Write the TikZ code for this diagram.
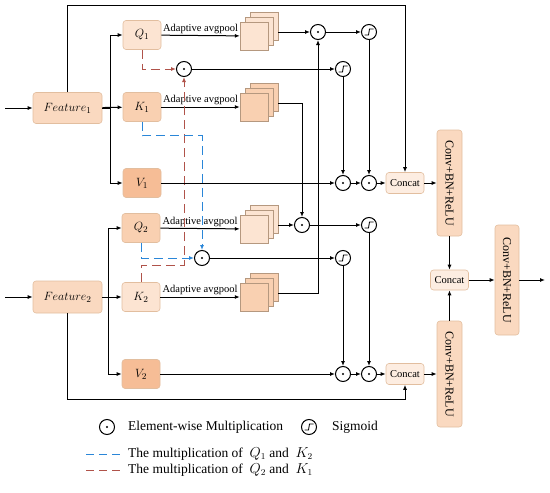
\documentclass[tikz,border=0pt]{standalone}
\usepackage{fontspec}
\setmainfont{Liberation Serif}
\usetikzlibrary{arrows.meta, positioning, calc}
\definecolor{chiaro}{HTML}{FCE4D2}
\definecolor{medio}{HTML}{F9D0B1}
\definecolor{scuro}{HTML}{F6BD96}
\definecolor{fondo}{HTML}{FAD9C0}
\definecolor{tenue}{HTML}{FDEDE1}
\definecolor{orlo}{HTML}{E2BE9F}
\definecolor{blu}{HTML}{2A86D8}
\definecolor{mattone}{HTML}{B0534A}

\begin{document}
\begin{tikzpicture}[
  x=1pt, y=-1pt,
  font=\fontsize{10.5}{12}\selectfont,
  blocco/.style={draw=orlo, line width=0.6pt, rounded corners=3pt, inner sep=0pt},
  foglio/.style={draw=orlo!80!black, line width=0.4pt, minimum size=28pt, inner sep=0pt},
  verticale/.style={blocco, fill=fondo, rotate=-90, minimum width=106pt, minimum height=25pt,
                    font=\fontsize{12}{14}\selectfont},
  molt/.style={circle, draw, line width=1pt, minimum size=15pt, inner sep=0pt,
               path picture={\fill (path picture bounding box.center) circle (1.2pt);}},
  sigm/.style={circle, draw, line width=1pt, minimum size=15pt, inner sep=0pt,
               path picture={\draw[line width=0.9pt]
                 ([shift={(-4.5pt,-3pt)}]path picture bounding box.center) --
                 ([shift={(-0.5pt,-3pt)}]path picture bounding box.center) --
                 ([shift={(0.5pt,3pt)}]path picture bounding box.center) --
                 ([shift={(4.5pt,3pt)}]path picture bounding box.center);}},
  freccia/.style={draw=black, line width=1pt, -{Latex[length=5pt,width=4pt]}},
  tratto/.style={line width=1pt, dash pattern=on 9pt off 5pt}
]
\useasboundingbox (0,0) rectangle (550,493);

% ---- ingressi ---------------------------------------------------------
\node[blocco, fill=fondo, minimum width=69pt, minimum height=31pt, font=\fontsize{12.5}{14}\selectfont]
  (F1) at (67.5,108) {$Feature_1$};
\node[blocco, fill=fondo, minimum width=69pt, minimum height=32pt, font=\fontsize{12.5}{14}\selectfont]
  (F2) at (67.5,297) {$Feature_2$};
\coordinate (in1) at (5,108);
\coordinate (in2) at (5,297);
\draw[freccia] (in1) -- (F1);
\draw[freccia] (in2) -- (F2);

%==============================================================
% Q, K, V
%==============================================================
\foreach \nome/\xx/\yy/\col/\testo in {%
  Q1/142/35/chiaro/{Q_1}, K1/142/107/medio/{K_1}, V1/142/183/scuro/{V_1},
  Q2/141/228/medio/{Q_2}, K2/141/297/chiaro/{K_2}, V2/141/374/scuro/{V_2}} {
  \node[blocco, fill=\col, minimum width=38pt, minimum height=29pt, font=\fontsize{12.5}{14}\selectfont]
    (\nome) at (\xx,\yy) {$\testo$};
}

\draw[freccia] (F1) -- (K1);
\draw[freccia] (F1.east) -- ++(8,0) |- (Q1);
\draw[freccia] (F1.east) -- ++(8,0) |- (V1);
\draw[freccia] (F2) -- (K2);
\draw[freccia] (F2.east) -- ++(6,0) |- (Q2);
\draw[freccia] (F2.east) -- ++(6,0) |- (V2);

% ---- pile dopo l'adaptive avgpool --------------------------------------
\foreach \nome/\yy/\col in {pq1/36/chiaro, pk1/107/medio, pq2/229/chiaro, pk2/297/medio} {
  \node[foglio, fill=\col] at (264,{\yy-10}) {};
  \node[foglio, fill=\col] at (259,{\yy-5}) {};
  \node[foglio, fill=\col] (\nome) at (254,\yy) {};
  \coordinate (\nome-out) at (278,{\yy-4});
}
\foreach \da/\a in {Q1/pq1, K1/pk1, Q2/pq2, K2/pk2} {
  \draw[freccia] (\da) -- node[above, inner sep=1.5pt] {Adaptive avgpool} (\a);
}

%==============================================================
% moltiplicazioni e sigmoidi
%==============================================================
\node[molt] (c1) at (184,69) {};
\node[molt] (c2) at (202,258) {};
\node[molt] (cA) at (318,32) {};
\node[sigm] (sA) at (369,32) {};
\node[sigm] (sB) at (343,69) {};
\node[molt] (cC) at (302,225) {};
\node[sigm] (sD) at (369,225) {};
\node[sigm] (sE) at (343,258) {};
\node[molt] (m1) at (343,183) {};
\node[molt] (m2) at (369,183) {};
\node[molt] (m3) at (343,374) {};
\node[molt] (m4) at (369,374) {};

\draw[freccia] (pq1-out) -- (cA);
\draw[freccia] (pk2-out) -| (cA);
\draw[freccia] (pq2-out) -- (cC);
\draw[freccia] (pk1-out) -| (cC);
\draw[freccia] (cA) -- (sA);
\draw[freccia] (cC) -- (sD);
\draw[freccia] (c1) -- (sB);
\draw[freccia] (c2) -- (sE);
\draw[freccia] (sA) -- (m2);
\draw[freccia] (sB) -- (m1);
\draw[freccia] (sD) -- (m4);
\draw[freccia] (sE) -- (m3);

% ---- tratteggi incrociati ----------------------------------------------
\draw[tratto, mattone, -{Latex[length=5pt,width=4pt]}] (Q1.south) |- (c1);
\draw[tratto, mattone, -{Latex[length=5pt,width=4pt]}] (K2.north) -- ++(0,-17) -| (c1);
\draw[tratto, blu, -{Latex[length=5pt,width=4pt]}] (K1.south) -- ++(0,14) -| (c2);
\draw[tratto, blu, -{Latex[length=5pt,width=4pt]}] (Q2.south) |- (c2);

%==============================================================
% concatenazioni e uscita
%==============================================================
\node[blocco, fill=tenue, minimum width=38pt, minimum height=21pt] (cat1) at (405,183) {Concat};
\node[blocco, fill=tenue, minimum width=38pt, minimum height=21pt] (cat2) at (405,374) {Concat};
\node[blocco, fill=tenue, minimum width=38pt, minimum height=20pt] (cat3) at (449.5,280) {Concat};
\node[verticale] (conv1) at (449.5,183) {Conv+BN+ReLU};
\node[verticale] (conv2) at (449.5,374) {Conv+BN+ReLU};
\node[verticale, minimum width=110pt, minimum height=24pt] (conv3) at (507,280) {Conv+BN+ReLU};

\draw[freccia] (V1) -- (m1);
\draw[freccia] (m1) -- (m2);
\draw[freccia] (m2) -- (cat1);
\draw[freccia] (V2) -- (m3);
\draw[freccia] (m3) -- (m4);
\draw[freccia] (m4) -- (cat2);

\coordinate (alto) at (405,5);
\coordinate (basso) at (405,399);
\draw[freccia] (F1.north) |- (alto) -- (cat1.north);
\draw[freccia] (F2.south) |- (basso) -- (cat2.south);

\draw[freccia] (cat1) -- (conv1);
\draw[freccia] (cat2) -- (conv2);
\draw[freccia] (conv1) -- (cat3);
\draw[freccia] (conv2) -- (cat3);
\draw[freccia] (cat3) -- (conv3);
\coordinate (uscita) at (545,280);
\draw[freccia] (conv3) -- (uscita);

%==============================================================
% legenda
%==============================================================
\node[molt] (lm) at (107,427) {};
\node[anchor=west, inner sep=0pt, font=\fontsize{13.5}{15}\selectfont] (lmt) at (128,427) {Element-wise Multiplication};
\node[sigm] (ls) at (309,427) {};
\node[anchor=west, inner sep=0pt, font=\fontsize{13.5}{15}\selectfont] (lst) at (332,427) {Sigmoid};
\draw[tratto, blu, dash pattern=on 8pt off 5pt] (86,454) -- (122,454);
\node[anchor=west, inner sep=0pt, font=\fontsize{13.5}{15}\selectfont] (lb) at (128,454) {The multiplication of \ $Q_1$ and \ $K_2$};
\draw[tratto, mattone, dash pattern=on 8pt off 5pt] (86,470) -- (122,470);
\node[anchor=west, inner sep=0pt, font=\fontsize{13.5}{15}\selectfont] (lr) at (128,470) {The multiplication of \ $Q_2$ and \ $K_1$};

\end{tikzpicture}
\end{document}
